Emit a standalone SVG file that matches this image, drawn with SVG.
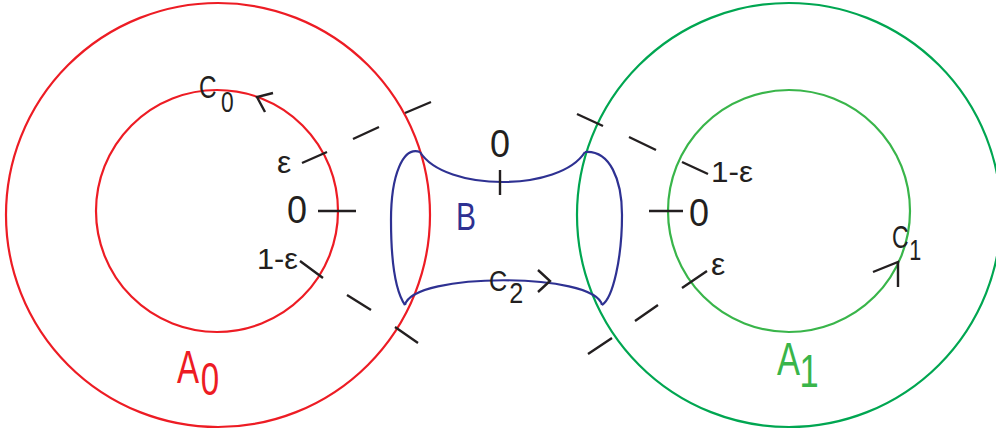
<svg xmlns="http://www.w3.org/2000/svg" width="996" height="430" viewBox="0 0 996 430">
<style>
.c{fill:none;stroke-width:2.2}
.red{stroke:#ED1C24}
.green{stroke:#00A651}
.lgreen{stroke:#39B54A}
.blue{fill:none;stroke:#2E3192;stroke-width:2.2;stroke-linejoin:round}
.tk{stroke:#231F20;stroke-width:2.4;fill:none;stroke-linecap:butt}
text{font-family:"Liberation Sans",Arial,sans-serif;fill:#231F20}
.s{font-size:30px}
.cs{font-size:32px}
.m{font-size:38px}
.big{font-size:46px}
</style>
<rect width="996" height="430" fill="#fff"/>
<g id="A0">
<circle class="c red" cx="218" cy="215" r="212"/>
<text class="big" transform="translate(177,383) scale(0.72,1)" style="fill:#ED1C24">A<tspan x="33" dy="12">0</tspan></text>
</g>
<g id="C0">
<circle class="c red" cx="217" cy="211" r="121"/>
<text class="cs" transform="translate(199,98) scale(0.76,1)">C<tspan x="29" dy="14" style="font-size:30px">0</tspan></text>
</g>
<g id="A1">
<circle class="c green" cx="789" cy="215" r="212"/>
<text class="big" transform="translate(777,375) scale(0.75,1)" style="fill:#39B54A">A<tspan x="30" dy="12">1</tspan></text>
</g>
<g id="C1">
<circle class="c lgreen" cx="789" cy="211" r="121"/>
<text class="cs" transform="translate(892,248) scale(0.72,1)">C<tspan x="24" dy="12" style="font-size:30px">1</tspan></text>
</g>
<g id="B">
<path class="blue" d="M420,152 C445,192 560,192 585,152"/>
<path class="blue" d="M420,152 C403,146 391,175 391,220 C391,262 396,292 405,305"/>
<path class="blue" d="M405,305 C413,272 594,272 602,305"/>
<path class="blue" d="M585,152 C610,150 622,180 622,215 C622,258 613,298 602,305"/>
<text x="456" y="230" textLength="20" lengthAdjust="spacingAndGlyphs" style="font-size:39px;fill:#2E3192">B</text>
<text transform="translate(489,291) scale(0.84,1)" style="font-size:30px">C<tspan x="24" dy="12">2</tspan></text>
</g>
<g id="connectors">
<path class="tk" d="M273,93 L257,97 L265,112"/>
<path class="tk" d="M405,113 L431,102 M353,139 L379,127 M302,163 L327,152"/>
<path class="tk" d="M318,211 L356,211"/>
<path class="tk" d="M300,261 L323,278 M347,295 L371,310 M395,327 L418,343"/>
<path class="tk" d="M500,170 L500,195"/>
<path class="tk" d="M538,270 L550,281 L538,292"/>
<path class="tk" d="M577,114 L603,126 M629,137 L656,150 M682,162 L708,174"/>
<path class="tk" d="M649,211 L683,211"/>
<path class="tk" d="M682,288 L707,271 M635,321 L658,305 M588,354 L612,338"/>
<path class="tk" d="M873,272 L898,262 L898,287"/>
</g>
<g id="labels">
<text class="s" x="277" y="173" style="font-size:32px">ε</text>
<text class="m" x="287" y="223" textLength="20" lengthAdjust="spacingAndGlyphs">0</text>
<text class="s" x="257" y="269" textLength="41" lengthAdjust="spacingAndGlyphs">1-ε</text>
<text class="m" x="490" y="157" textLength="20" lengthAdjust="spacingAndGlyphs">0</text>
<text class="s" x="711" y="182" textLength="42" lengthAdjust="spacingAndGlyphs">1-ε</text>
<text class="m" x="689" y="226" textLength="20" lengthAdjust="spacingAndGlyphs">0</text>
<text class="s" x="711" y="275" style="font-size:32px">ε</text>
</g>
</svg>
